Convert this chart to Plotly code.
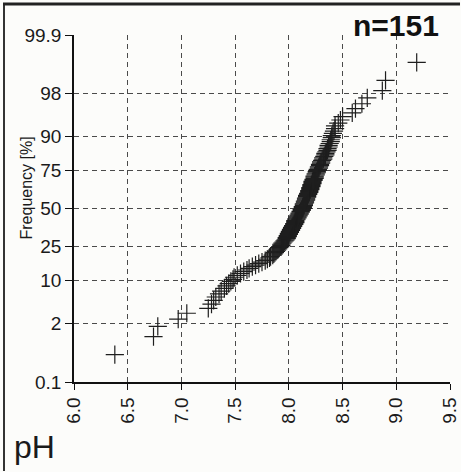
import plotly.graph_objects as go
from statistics import NormalDist

# sorted pH values (n = 151)
ph_values = [
    6.38, 6.74, 6.78, 6.97, 7.05, 7.25, 7.28,
    7.30, 7.32, 7.35, 7.37, 7.40, 7.42, 7.44, 7.46, 7.48, 7.49, 7.52, 7.55, 7.58,
    7.61, 7.63, 7.66, 7.69, 7.72, 7.75, 7.78, 7.80, 7.82, 7.83,
    7.85, 7.86, 7.87, 7.88, 7.89, 7.90, 7.91, 7.92, 7.93, 7.93,
    7.94, 7.95, 7.96, 7.97, 7.98, 7.98, 7.99, 7.99, 8.00, 8.00,
    8.01, 8.01, 8.02, 8.02, 8.03, 8.03, 8.04, 8.04, 8.05, 8.05,
    8.06, 8.06, 8.06, 8.07, 8.07, 8.08, 8.08, 8.09, 8.09, 8.10,
    8.10, 8.11, 8.11, 8.12, 8.12, 8.13,
    8.13, 8.13, 8.14, 8.14, 8.14, 8.15, 8.15, 8.15, 8.16, 8.16, 8.16, 8.17, 8.17, 8.17,
    8.18, 8.18, 8.19, 8.19, 8.19, 8.20, 8.20, 8.20, 8.21, 8.21,
    8.21, 8.22, 8.22, 8.22, 8.23, 8.23, 8.24, 8.24, 8.24, 8.25,
    8.25, 8.26, 8.26, 8.27, 8.27, 8.28, 8.28, 8.29, 8.29, 8.30,
    8.30, 8.31, 8.32, 8.32, 8.33, 8.34, 8.34, 8.35, 8.36, 8.36,
    8.37, 8.37, 8.38, 8.39, 8.39, 8.40, 8.40, 8.41, 8.42, 8.43,
    8.43, 8.46, 8.48, 8.50, 8.59, 8.62, 8.68, 8.73, 8.87, 8.90, 9.19,
]
freq_ticks = [0.1, 2, 10, 25, 50, 75, 90, 98, 99.9]
freq_tick_labels = ["0.1", "2", "10", "25", "50", "75", "90", "98", "99.9"]
ph_ticks = [6.0, 6.5, 7.0, 7.5, 8.0, 8.5, 9.0, 9.5]
ph_tick_labels = ["6.0", "6.5", "7.0", "7.5", "8.0", "8.5", "9.0", "9.5"]

nd = NormalDist()
n = len(ph_values)
# median-rank plotting positions on a probit (normal probability) scale
z_values = [nd.inv_cdf((i + 1 - 0.3) / (n + 0.4)) for i in range(n)]
z_ticks = [nd.inv_cdf(f / 100.0) for f in freq_ticks]

W, H = 461, 472
ML, MR, MT, MB = 74, 11, 35, 90
PW, PH = W - ML - MR, H - MT - MB


def px(x):
    return (x - ML) / PW


def py(y):
    return (H - MB - y) / PH


FONT = "Liberation Sans, Arial, sans-serif"
GRID = "#4a4a4a"

fig = go.Figure()
fig.add_trace(go.Scatter(
    x=ph_values, y=z_values, mode="markers",
    marker=dict(symbol="cross-thin", size=13, color="#1e1e1e",
                line=dict(width=1.2, color="#1e1e1e")),
    cliponaxis=False, showlegend=False, hoverinfo="skip",
))

fig.update_layout(
    template="none",
    width=W, height=H, autosize=False,
    margin=dict(l=ML, r=MR, t=MT, b=MB, pad=0),
    paper_bgcolor="#fcfcfa", plot_bgcolor="#fcfcfa",
    font=dict(family=FONT, color="#1a1a1a", size=18),
    xaxis=dict(
        range=[6.0, 9.5], tickvals=ph_ticks, ticktext=ph_tick_labels,
        tickangle=-90, showline=True, linecolor="#111", linewidth=1.5,
        ticks="outside", ticklen=6, tickwidth=1.2, tickcolor="#111",
        showgrid=True, gridcolor=GRID, griddash="5px,4px", gridwidth=1,
        zeroline=False, automargin=False, tickfont=dict(size=19, family=FONT),
    ),
    yaxis=dict(
        range=[z_ticks[0], z_ticks[-1]], tickvals=z_ticks, ticktext=freq_tick_labels,
        showline=True, linecolor="#111", linewidth=1.5,
        ticks="outside", ticklen=7, tickwidth=1.2, tickcolor="#111",
        showgrid=True, gridcolor=GRID, griddash="5px,4px", gridwidth=1,
        zeroline=False, automargin=False, tickfont=dict(size=19, family=FONT),
    ),
    annotations=[
        dict(text="Frequency [%]", xref="paper", yref="paper", x=px(15), y=py(188),
             textangle=-90, showarrow=False, font=dict(size=16, family=FONT)),
        dict(text="pH", xref="paper", yref="paper", x=px(12), y=py(447),
             xanchor="left", yanchor="middle", showarrow=False,
             font=dict(size=32, family=FONT)),
        dict(text="<b>n=151</b>", xref="paper", yref="paper", x=px(396), y=py(26),
             xanchor="center", yanchor="middle", showarrow=False,
             font=dict(size=30, family=FONT, color="#111")),
    ],
    shapes=[
        dict(type="line", xref="paper", yref="paper", x0=px(4), x1=px(4),
             y0=py(3), y1=py(471), layer="above", line=dict(color="#333", width=2)),
        dict(type="line", xref="paper", yref="paper", x0=px(3), x1=px(460),
             y0=py(4), y1=py(4), layer="above", line=dict(color="#222", width=3)),
    ],
)

fig.write_html("out.html", config={"displayModeBar": False},
               post_script="document.body.style.margin='0';")
